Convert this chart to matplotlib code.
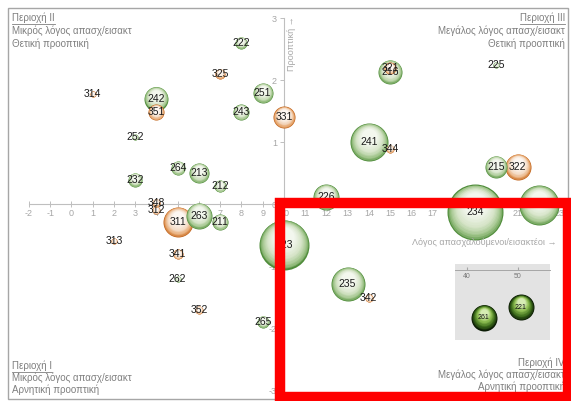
import matplotlib
matplotlib.use("Agg")
import matplotlib.pyplot as plt
import matplotlib.patches as mpatches
from matplotlib.lines import Line2D
from matplotlib.transforms import ScaledTranslation
import numpy as np
from matplotlib.colors import to_rgb

plt.rcParams['font.family'] = ['Liberation Sans', 'DejaVu Sans']
plt.rcParams['axes.unicode_minus'] = False

# ---------------- data ----------------
labels = ['222', '325', '251', '243', '331', '314', '242', '351', '252', '264',
          '213', '212', '232', '348', '312', '311', '263', '211', '313', '341',
          '262', '352', '265', '223', '226', '241', '344', '321', '216', '225',
          '215', '322', '234', '224', '235', '342']
x_ratio = [8, 7, 9, 8, 10, 1, 4, 4, 3, 5,
           6, 7, 3, 4, 4, 5, 6, 7, 2, 5,
           5, 6, 9, 10, 12, 14, 15, 15, 15, 20,
           20, 21, 19, 22, 13, 14]
y_outlook = [2.6, 2.1, 1.79, 1.48, 1.4, 1.77, 1.7, 1.48, 1.08, 0.58,
             0.5, 0.29, 0.39, 0.02, -0.1, -0.29, -0.19, -0.29, -0.6, -0.81,
             -1.21, -1.71, -1.9, -0.66, 0.11, 1.0, 0.89, 2.19, 2.13, 2.24,
             0.6, 0.6, -0.13, -0.02, -1.29, -1.52]
bubble_size = [36, 25, 100, 64, 121, 9, 144, 64, 9, 49,
               100, 36, 49, 16, 16, 225, 169, 64, 9, 25,
               9, 16, 36, 625, 169, 361, 16, 36, 144, 9,
               121, 169, 784, 400, 289, 16]
group = ['g' if l.startswith('2') else 'o' for l in labels]

inset_labels = ['261', '221']
inset_x = [43.3, 50.6]
inset_y = [-0.77, -0.6]
inset_size = [169, 169]

x_ticks = list(range(-2, 24))
y_ticks = [-3, -2, -1, 0, 1, 2, 3]
inset_ticks = [40, 50]

# ---------------- figure ----------------
W, H, DPI = 571, 401, 100
fig = plt.figure(figsize=(W / DPI, H / DPI), dpi=DPI)
fig.patch.set_facecolor('white')


def fx(px):
    return px / W


def fy(py):
    return 1 - py / H


# chart border
fig.add_artist(mpatches.Rectangle((fx(8), fy(399)), fx(560), (391) / H,
                                  transform=fig.transFigure, fill=False,
                                  edgecolor='#a6a6a6', linewidth=1.0, zorder=0))

ax = fig.add_axes([fx(29), fy(390), fx(531), 372 / H])
ax.set_xlim(-2, 23)
ax.set_ylim(-3, 3)
ax.set_facecolor('none')
for s in ['top', 'right']:
    ax.spines[s].set_visible(False)
ax.spines['left'].set_position(('data', 10))
ax.spines['bottom'].set_position(('data', 0))
for s in ['left', 'bottom']:
    ax.spines[s].set_color('#bfbfbf')
    ax.spines[s].set_linewidth(0.8)
ax.set_xticks(x_ticks)
ax.set_yticks(y_ticks)
ax.tick_params(axis='x', direction='inout', length=5, width=0.7, color='#bfbfbf',
               labelsize=6.5, labelcolor='#a6a6a6', pad=1)
ax.tick_params(axis='y', direction='out', length=3, width=0.7, color='#bfbfbf',
               labelsize=6.5, labelcolor='#a6a6a6', pad=2)

palettes = {
    'g': ['#4f8c3a', '#9cc286', '#d6e4c8', '#f3f7ee'],
    'o': ['#c0621a', '#e6a46a', '#f5dcc6', '#fdf7f2'],
    'd': ['#0c1c05', '#3e6e1c', '#8fbf52', '#d6ecb4'],
}


def mix_stops(stops, t):
    cols = [np.array(to_rgb(c)) for c in stops]
    n = len(cols) - 1
    pos = t * n
    i = min(int(pos), n - 1)
    f = pos - i
    return tuple(cols[i] * (1 - f) + cols[i + 1] * f)


def bubble(axis, x, y, r_px, kind, z, shrink=0.6, lift=0.3, gamma=0.6):
    stops = palettes[kind]
    N = 16
    for i in range(N):
        t = i / (N - 1)
        rr = r_px * (1 - shrink * t)
        dy = r_px * lift * t
        col = mix_stops(stops, t ** gamma)
        tr = axis.transData + ScaledTranslation(0, dy / DPI, fig.dpi_scale_trans)
        axis.scatter([x], [y], s=(2 * rr * 72 / DPI) ** 2, color=[col],
                     linewidths=0, transform=tr, zorder=z, clip_on=False)


order = np.argsort(bubble_size)[::-1]
for k, idx in enumerate(order):
    r = np.sqrt(bubble_size[idx])
    bubble(ax, x_ratio[idx], y_outlook[idx], r, group[idx], 3 + k * 0.01)
for i in range(len(labels)):
    ax.text(x_ratio[i], y_outlook[i], labels[i], ha='center', va='center',
            fontsize=7.5, color='#1a1a1a', zorder=10)

# axis titles
fig.text(fx(292), fy(44), 'Προοπτική →', rotation=90, ha='center', va='center',
         fontsize=6.5, color='#a6a6a6')
fig.text(fx(557), fy(242), 'Λόγος απασχαλούμενοι/εισακτέοι →', ha='right',
         va='center', fontsize=6.5, color='#a6a6a6')

# quadrant texts
quad = [
    (12, [18, 31, 44], 'left', ['Περιοχή II', 'Μικρός λόγος απασχ/εισακτ', 'Θετική προοπτική']),
    (565, [18, 31, 44], 'right', ['Περιοχή III', 'Μεγάλος λόγος απασχ/εισακτ', 'Θετική προοπτική']),
    (12, [366, 378, 390], 'left', ['Περιοχή I', 'Μικρός λόγος απασχ/εισακτ', 'Αρνητική προοπτική']),
    (565, [363, 375, 387], 'right', ['Περιοχή IV', 'Μεγάλος λόγος απασχ/εισακτ', 'Αρνητική προοπτική']),
]
heads = []
for px, pys, ha, lines in quad:
    for j, (py, t) in enumerate(zip(pys, lines)):
        tx = fig.text(fx(px), fy(py), t, ha=ha, va='center', fontsize=7,
                      color='#7f7f7f')
        if j == 0:
            heads.append(tx)

# inset
iax = fig.add_axes([fx(455), fy(340), fx(95), 76 / H])
iax.set_facecolor('#e3e3e3')
iax.set_xlim(37.65, 56.3)
iax.set_ylim(-1.13, 0.1)
for s in ['top', 'right', 'left']:
    iax.spines[s].set_visible(False)
iax.spines['bottom'].set_position(('data', 0))
iax.spines['bottom'].set_color('#a6a6a6')
iax.spines['bottom'].set_linewidth(0.7)
iax.set_xticks(inset_ticks)
iax.set_yticks([])
iax.tick_params(axis='x', direction='in', length=2, color='#a6a6a6',
                labelsize=5, labelcolor='#777777', pad=2)
for i in range(len(inset_labels)):
    bubble(iax, inset_x[i], inset_y[i], np.sqrt(inset_size[i]), 'd', 3,
           shrink=0.7, lift=0.4, gamma=0.9)
    iax.text(inset_x[i], inset_y[i], inset_labels[i], ha='center', va='center',
             fontsize=5, color='#111111', zorder=10)

# red highlight rectangle
fig.add_artist(mpatches.Rectangle((fx(280), fy(397)), fx(288), 194 / H,
                                  transform=fig.transFigure, fill=False,
                                  edgecolor='#ff0000', linewidth=7.5, zorder=20))

# underline headings
fig.canvas.draw()
rend = fig.canvas.get_renderer()
for tx in heads:
    bb = tx.get_window_extent(rend)
    yline = bb.y0 - 0.5
    fig.add_artist(Line2D([bb.x0 / W, bb.x1 / W], [yline / H, yline / H],
                          transform=fig.transFigure, color='#7f7f7f', linewidth=0.6))

fig.savefig('out.png', dpi=DPI)
